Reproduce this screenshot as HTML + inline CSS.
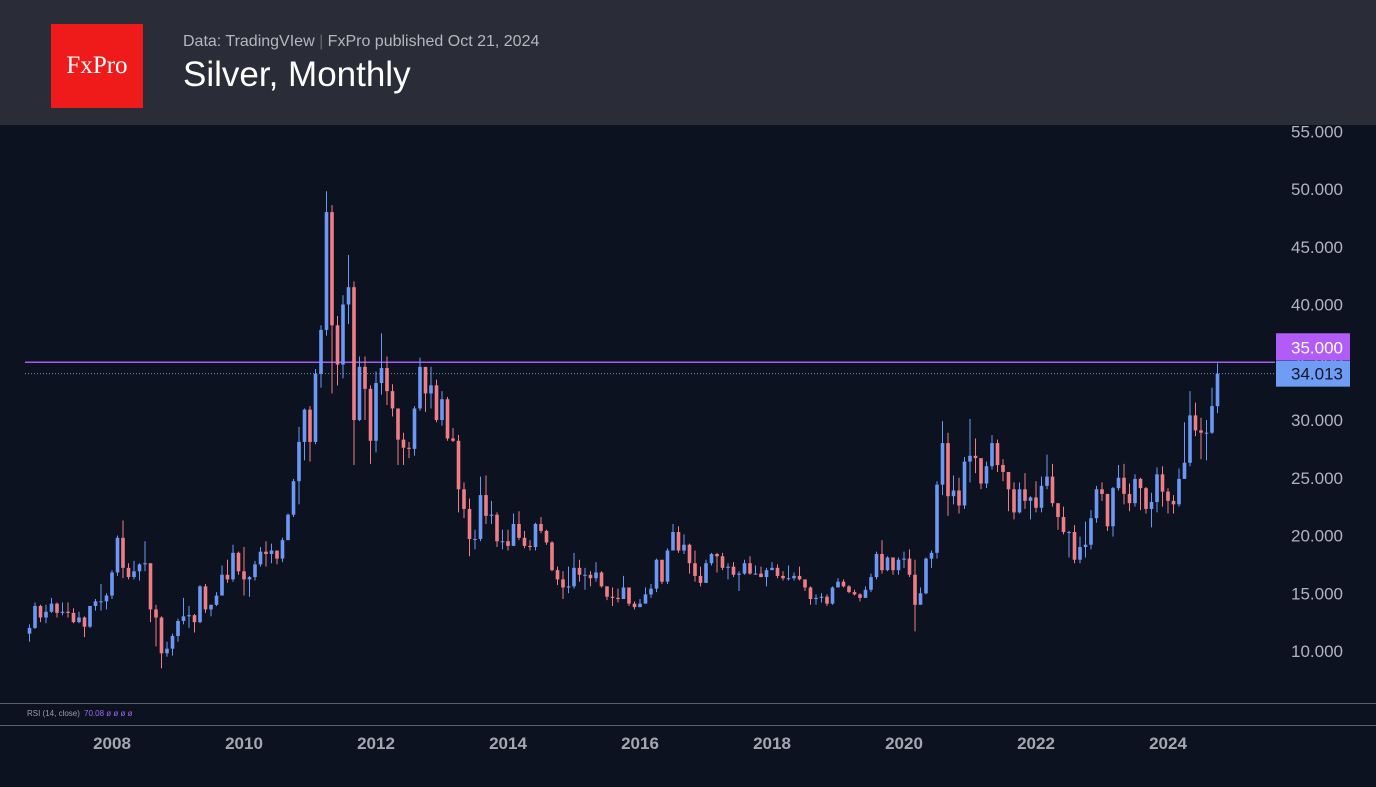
<!DOCTYPE html>
<html><head><meta charset="utf-8">
<style>
html,body{margin:0;padding:0;background:#0d1220;}
body{width:1376px;height:787px;overflow:hidden;position:relative;font-family:"Liberation Sans",sans-serif;}
#header{position:absolute;left:0;top:0;width:1376px;height:125px;background:#2a2d37;}
#logo{position:absolute;left:51px;top:24px;width:92px;height:84px;background:#ef1a1a;color:#fff;font-family:"Liberation Serif",serif;font-size:25px;display:flex;align-items:center;justify-content:center;}
#meta{position:absolute;left:183px;top:33px;color:#b4b7bf;font-size:16px;}
#title{position:absolute;left:183px;top:55px;color:#fff;font-size:35px;}
svg{position:absolute;left:0;top:0;}
</style></head><body>
<div id="header">
<div id="logo">FxPro</div>
<div id="meta">Data: TradingVIew <span style="color:#666">|</span> FxPro published Oct 21, 2024</div>
<div id="title">Silver, Monthly</div>
</div>
<svg id="chart" width="1376" height="787"></svg>
<script>
const startYear=2006, startMonth=9; // Oct 2006
const firstOpen=11.5;
const closes=[12.0,13.9,12.9,
13.4,14.1,13.3,13.4,13.3,12.5,12.9,12.1,13.9,14.3,14.3,14.8,
16.8,19.8,17.2,16.4,16.9,17.5,17.6,13.6,12.9,9.8,10.2,11.3,
12.6,13.0,13.1,12.5,15.6,13.6,14.0,14.8,16.6,16.2,18.5,16.9,
16.2,16.4,17.5,18.6,18.4,18.7,18.0,19.6,21.8,24.7,28.1,30.9,
28.1,34.0,37.8,48.0,38.2,34.8,40.0,41.5,30.0,34.6,32.7,28.2,
33.2,34.5,32.5,31.0,28.3,27.6,27.5,31.0,34.6,32.3,33.0,30.0,
31.8,28.4,28.2,24.0,22.3,19.7,19.7,23.5,21.7,21.8,19.5,19.5,
19.1,21.0,19.8,19.1,19.0,21.0,20.4,19.4,17.0,16.2,15.5,15.6,
17.2,16.6,16.6,16.3,16.8,15.6,14.7,14.6,14.5,15.5,14.1,13.8,
14.1,14.9,15.4,17.9,16.0,18.7,20.3,18.7,19.2,17.6,16.5,15.9,
17.6,18.4,18.2,17.2,17.3,16.6,16.7,17.6,16.7,16.7,16.4,17.0,
17.2,16.5,16.3,16.3,16.5,16.2,15.5,14.5,14.6,14.7,14.1,15.5,
16.0,15.6,15.1,14.9,14.6,15.3,16.4,18.4,17.0,18.1,17.0,17.9,
18.0,16.6,14.0,15.0,18.0,18.5,24.4,28.0,23.4,23.9,22.6,26.4,
26.9,26.7,24.5,26.0,28.0,26.1,25.5,24.0,22.0,24.0,23.0,23.3,
22.4,24.3,25.1,22.8,21.6,20.3,20.3,17.9,19.0,19.2,21.5,24.0,
23.6,20.8,24.1,25.0,23.6,22.8,24.9,24.1,22.3,22.9,25.3,23.8,
23.0,22.7,24.9,26.3,30.4,29.1,28.9,28.9,31.2,34.0];
const highs=[12.3,14.2,14.0,
14.0,14.6,14.2,14.2,14.2,13.7,13.4,13.0,13.9,14.5,15.8,15.0,
17.0,20.0,21.3,17.6,17.8,17.6,19.5,17.6,14.0,13.0,10.8,11.5,
12.8,14.6,13.9,13.2,15.7,15.8,14.0,15.1,17.4,17.9,19.2,18.6,
19.0,16.5,17.8,19.0,19.5,19.3,18.7,19.8,21.9,24.9,29.4,31.0,
31.2,34.4,38.2,49.8,48.6,39.0,40.8,44.3,42.0,35.5,35.5,33.0,
34.2,37.5,35.5,33.1,31.0,28.9,28.1,31.2,35.4,34.5,34.6,33.5,
32.5,32.0,29.3,28.7,24.6,23.2,20.5,25.1,25.2,23.0,22.0,20.5,
20.5,21.9,22.1,20.4,19.6,21.1,21.6,20.5,19.5,17.3,16.9,17.3,
18.5,17.9,17.2,16.9,17.7,16.9,15.6,15.5,15.4,16.5,15.5,14.3,
14.5,15.5,15.8,18.0,17.8,18.9,21.0,20.8,20.1,19.3,18.7,17.3,
17.9,18.5,18.5,18.5,17.6,17.7,16.9,17.9,18.2,17.4,17.3,17.2,
17.7,17.5,16.9,17.4,16.8,17.3,16.0,15.6,14.9,15.0,14.9,15.6,
16.3,16.2,15.7,15.3,15.0,15.6,16.7,18.6,19.6,18.2,17.8,18.1,
18.6,18.8,17.9,15.5,18.1,18.7,24.7,29.9,28.9,25.2,25.0,26.8,
30.1,28.4,26.6,26.4,28.7,28.3,26.6,24.9,24.6,24.6,25.4,23.4,
24.7,25.1,27.0,26.2,22.6,22.5,20.4,20.9,19.9,21.2,22.2,24.3,
24.6,23.6,24.2,26.1,26.2,24.5,25.3,25.0,24.2,23.7,25.9,26.0,
24.1,23.5,25.8,29.8,32.5,31.5,30.2,30.0,32.8,34.9];
const lows=[10.8,11.9,12.5,
12.4,13.3,12.9,13.1,12.9,12.4,12.4,11.2,12.0,13.5,13.5,13.6,
14.5,16.5,16.3,16.2,16.2,16.1,16.9,12.5,10.4,8.5,9.5,9.6,
10.8,12.3,12.0,11.6,12.4,13.3,13.0,13.9,14.8,15.9,16.0,16.6,
14.8,14.7,16.1,17.3,17.3,17.6,17.5,17.7,19.6,21.6,22.7,26.5,
26.4,27.9,32.8,37.3,32.3,33.0,33.6,38.3,26.1,29.9,30.0,26.2,
27.2,32.2,31.3,30.3,26.1,26.1,26.7,26.9,30.8,30.7,31.0,29.8,
29.5,28.2,28.1,22.0,21.5,18.2,18.8,19.5,21.0,21.0,19.0,18.8,
18.7,19.1,19.6,18.9,18.7,18.7,20.2,19.2,16.9,15.7,14.5,15.0,
15.4,16.0,15.3,15.6,16.0,15.5,14.4,13.9,14.2,14.6,13.9,13.6,
13.8,14.2,14.6,15.1,15.8,15.8,18.7,18.5,18.4,16.7,16.0,15.6,
15.9,17.4,16.8,17.0,16.2,16.4,15.2,16.6,16.6,16.6,16.4,15.6,
17.0,16.3,16.1,16.1,16.1,16.1,15.2,14.0,14.0,14.2,13.9,14.0,
15.5,15.5,15.0,14.8,14.3,14.6,15.1,16.2,16.7,16.9,16.6,16.6,
17.2,16.4,11.7,14.6,14.9,17.2,18.0,23.5,21.7,22.7,21.9,22.3,
24.6,25.4,24.0,24.1,25.7,25.5,24.7,22.1,21.4,21.9,22.3,21.4,
22.0,22.0,24.0,22.5,20.5,20.1,18.1,17.6,17.6,18.1,18.8,21.1,
23.0,20.4,19.9,23.9,22.7,22.1,22.5,22.2,21.9,20.7,22.0,22.5,
21.9,21.9,22.5,25.8,26.0,28.6,26.6,26.5,28.8,30.6];
const priceTicks=[10,15,20,25,30,35,40,45,50,55];
const yearTicks=[2008,2010,2012,2014,2016,2018,2020,2022,2024];
const levelPrice=35.0;
const lastPrice=34.013;

const NS="http://www.w3.org/2000/svg";
const svg=document.getElementById('chart');
function yS(v){return 651-(v-10)*11.55;}
function xIdx(i){return 112+(i+startMonth-12*(2008-startYear))*5.5;}
function xYear(y){return 112+(y-2008)*66;}
function mk(tag,attrs){const e=document.createElementNS(NS,tag);for(const k in attrs)e.setAttribute(k,attrs[k]);svg.appendChild(e);return e;}

let e;
e=mk('line',{x1:0,x2:1376,y1:703.5,y2:703.5,stroke:'#5a5e68','stroke-width':1});


e=mk('line',{x1:0,x2:1376,y1:725.5,y2:725.5,stroke:'#5a5e68','stroke-width':1});


e=mk('text',{x:27,y:716,fill:'#9a9ea8','font-size':8});
e.textContent='RSI (14, close)';


e=mk('text',{x:84,y:716,fill:'#9b6af0','font-size':8});
e.textContent='70.08  ø  ø  ø  ø';



priceTicks.forEach(p=>{
  const t=mk('text',{x:1343,y:yS(p)+6,fill:'#b0b4be','font-size':17,'text-anchor':'end'});
  t.textContent=p.toFixed(3);
  
  
});
yearTicks.forEach(y=>{
  const t=mk('text',{x:xYear(y),y:749,fill:'#a3a7b1','font-size':17,'font-weight':'bold','text-anchor':'middle'});
  t.textContent=y;
  
  
});

e=mk('line',{x1:25,x2:1275,y1:yS(lastPrice),y2:yS(lastPrice),stroke:'#6f8fb8','stroke-width':1,'stroke-dasharray':'1,2'});


e=mk('line',{x1:25,x2:1275,y1:yS(levelPrice),y2:yS(levelPrice),stroke:'#a45cf6','stroke-width':1.5});



let prev=firstOpen;
for(let i=0;i<closes.length;i++){
  const o=prev,c=closes[i],h=highs[i],l=lows[i];
  const up=c>=o,col=up?'#6b98f4':'#ef7d84',x=xIdx(i);
  const w=mk('line',{x1:x,x2:x,y1:yS(h),y2:yS(l),stroke:col,'stroke-width':1});
  
  
  const top=yS(Math.max(o,c)),bot=yS(Math.min(o,c));
  const b=mk('rect',{x:x-1.8,y:top,width:3.6,height:Math.max(1,bot-top),fill:col});
  
  
  prev=c;
}

e=mk('rect',{x:1276,y:yS(levelPrice)-29,width:74,height:27,fill:'#b25cf8'});


e=mk('text',{x:1343,y:yS(levelPrice)-9,fill:'#fff','font-size':17,'text-anchor':'end'});
e.textContent=levelPrice.toFixed(3);


e=mk('rect',{x:1276,y:yS(lastPrice)-13,width:74,height:26,fill:'#6f9cf5'});


e=mk('text',{x:1343,y:yS(lastPrice)+6,fill:'#131722','font-size':17,'text-anchor':'end'});
e.textContent=lastPrice.toFixed(3);


</script>
</body></html>
